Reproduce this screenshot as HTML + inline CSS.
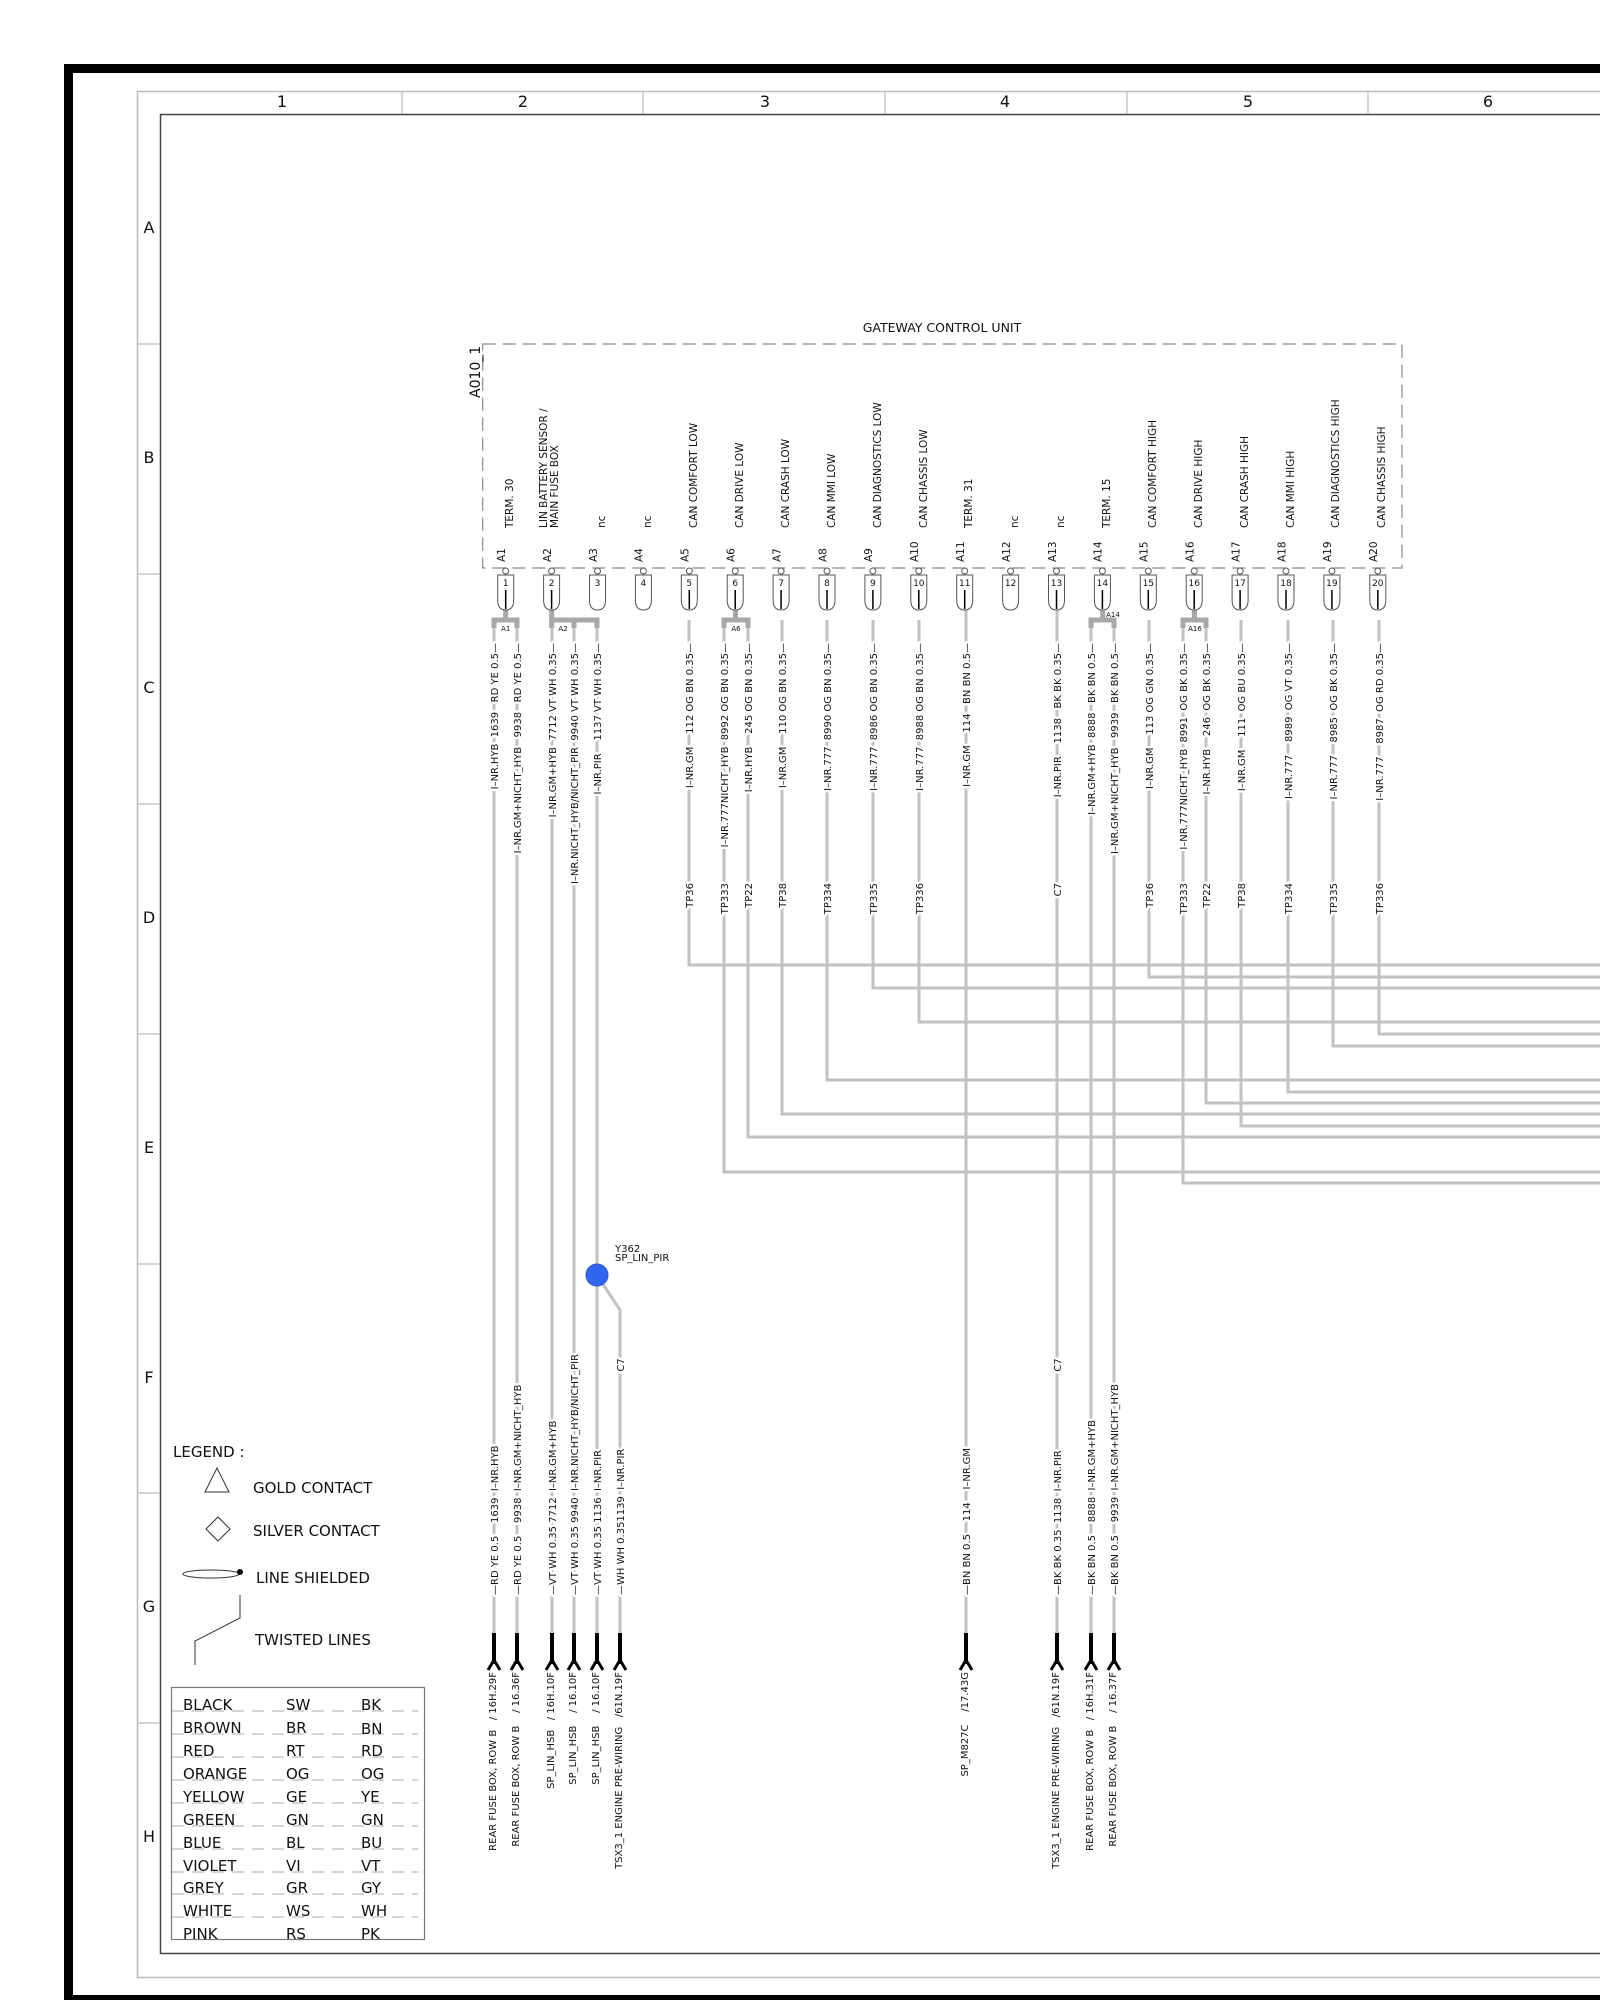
<!DOCTYPE html>
<html><head><meta charset="utf-8"><style>
html,body{margin:0;padding:0;background:#fff;}
svg{display:block;}
text{font-family:"DejaVu Sans","Liberation Sans",sans-serif;fill:#111;white-space:pre;}
.wl{font-size:10px;stroke:#fff;stroke-width:5px;paint-order:stroke;stroke-linejoin:round;white-space:pre;}
.w{stroke:#c2c2c2;stroke-width:3;fill:none;}
.br{stroke:#a8a8a8;stroke-width:5;fill:none;}
.lg{font-family:"DejaVu Sans","Liberation Sans",sans-serif;font-size:15px;}
</style></head><body>
<svg width="1600" height="2000" viewBox="0 0 1600 2000" xmlns="http://www.w3.org/2000/svg">
<rect x="64" y="64" width="1536" height="9" fill="#000"/>
<rect x="64" y="64" width="9" height="1936" fill="#000"/>
<rect x="64" y="1995" width="1536" height="5" fill="#000"/>
<path d="M1600 91.5 H137.5 V1977.5 H1600" stroke="#bbb" stroke-width="1.5" fill="none"/>
<path d="M1600 114.5 H160.5 V1953.5 H1600" stroke="#444" stroke-width="1.5" fill="none"/>
<g stroke="#bbb" stroke-width="1.2">
<line x1="402" y1="91" x2="402" y2="114"/><line x1="643" y1="91" x2="643" y2="114"/><line x1="885" y1="91" x2="885" y2="114"/><line x1="1127" y1="91" x2="1127" y2="114"/><line x1="1368" y1="91" x2="1368" y2="114"/>
<line x1="137" y1="344" x2="160" y2="344"/><line x1="137" y1="574" x2="160" y2="574"/><line x1="137" y1="804" x2="160" y2="804"/><line x1="137" y1="1034" x2="160" y2="1034"/><line x1="137" y1="1264" x2="160" y2="1264"/><line x1="137" y1="1493" x2="160" y2="1493"/><line x1="137" y1="1723" x2="160" y2="1723"/>
</g>
<g font-size="16" text-anchor="middle">
<text x="282" y="107">1</text><text x="523" y="107">2</text><text x="765" y="107">3</text><text x="1005" y="107">4</text><text x="1248" y="107">5</text><text x="1488" y="107">6</text>
<text x="149" y="233">A</text><text x="149" y="463">B</text><text x="149" y="693">C</text><text x="149" y="923">D</text><text x="149" y="1153">E</text><text x="149" y="1383">F</text><text x="149" y="1612">G</text><text x="149" y="1842">H</text>
</g>

<text x="942" y="332" font-size="12.5" text-anchor="middle">GATEWAY CONTROL UNIT</text>
<rect x="482.7" y="344" width="919.3" height="224" fill="none" stroke="#888" stroke-width="1.2" stroke-dasharray="13,7"/>
<text transform="translate(480,398) rotate(-90)" font-size="14">A010_1</text>

<g class="w">
<path d="M689 620 V965 H1600"/>
<path d="M1149 620 V977 H1600"/>
<path d="M873 620 V988 H1600"/>
<path d="M919 620 V1022 H1600"/>
<path d="M1379 620 V1034 H1600"/>
<path d="M1333 620 V1046 H1600"/>
<path d="M827 620 V1080 H1600"/>
<path d="M1288 620 V1092 H1600"/>
<path d="M1206 620 V1103 H1600"/>
<path d="M782 620 V1114 H1600"/>
<path d="M1241 620 V1126 H1600"/>
<path d="M748 620 V1137 H1600"/>
<path d="M724 620 V1172 H1600"/>
<path d="M1183 620 V1183 H1600"/>
<path d="M494 620 V1633"/><path d="M517 620 V1633"/>
<path d="M552 620 V1633"/><path d="M574 620 V1633"/><path d="M597 620 V1633"/>
<path d="M597 1275 L620 1310 V1633"/>
<path d="M966 610 V1633"/><path d="M1057 610 V1633"/>
<path d="M1091 620 V1633"/><path d="M1114 620 V1633"/>
</g>
<g class="br">
<path d="M505.7 609 V620 M494 628 V620 H517 V628"/>
<path d="M551.7 609 V628 M552 620 H597 V628 M574 620 V628"/>
<path d="M735.5 609 V620 M724 628 V620 H748 V628"/>
<path d="M1102.7 609 V620 M1091 628 V620 H1114 V628"/>
<path d="M1194.5 609 V620 M1183 628 V620 H1206 V628"/>
</g>
<g font-size="7" text-anchor="middle">
<text x="505.7" y="631">A1</text><text x="563" y="631">A2</text><text x="736" y="631">A6</text><text x="1113" y="617">A14</text><text x="1195" y="631">A16</text>
</g>

<g stroke="#555" stroke-width="1" fill="#fff">
<circle cx="505.7" cy="571" r="3"/><circle cx="551.6" cy="571" r="3"/><circle cx="597.5" cy="571" r="3"/><circle cx="643.4" cy="571" r="3"/><circle cx="689.3" cy="571" r="3"/><circle cx="735.2" cy="571" r="3"/><circle cx="781.1" cy="571" r="3"/><circle cx="827" cy="571" r="3"/><circle cx="872.9" cy="571" r="3"/><circle cx="918.8" cy="571" r="3"/><circle cx="964.7" cy="571" r="3"/><circle cx="1010.6" cy="571" r="3"/><circle cx="1056.5" cy="571" r="3"/><circle cx="1102.4" cy="571" r="3"/><circle cx="1148.3" cy="571" r="3"/><circle cx="1194.2" cy="571" r="3"/><circle cx="1240.1" cy="571" r="3"/><circle cx="1286" cy="571" r="3"/><circle cx="1331.9" cy="571" r="3"/><circle cx="1377.8" cy="571" r="3"/>
</g>
<g stroke="#555" stroke-width="1" fill="#fff">
<path d="M497.7 575 h16 v25 q0 10 -8 10 q-8 0 -8 -10 z"/>
<path d="M543.6 575 h16 v25 q0 10 -8 10 q-8 0 -8 -10 z"/>
<path d="M589.5 575 h16 v25 q0 10 -8 10 q-8 0 -8 -10 z"/>
<path d="M635.4 575 h16 v25 q0 10 -8 10 q-8 0 -8 -10 z"/>
<path d="M681.3 575 h16 v25 q0 10 -8 10 q-8 0 -8 -10 z"/>
<path d="M727.2 575 h16 v25 q0 10 -8 10 q-8 0 -8 -10 z"/>
<path d="M773.1 575 h16 v25 q0 10 -8 10 q-8 0 -8 -10 z"/>
<path d="M819 575 h16 v25 q0 10 -8 10 q-8 0 -8 -10 z"/>
<path d="M864.9 575 h16 v25 q0 10 -8 10 q-8 0 -8 -10 z"/>
<path d="M910.8 575 h16 v25 q0 10 -8 10 q-8 0 -8 -10 z"/>
<path d="M956.7 575 h16 v25 q0 10 -8 10 q-8 0 -8 -10 z"/>
<path d="M1002.6 575 h16 v25 q0 10 -8 10 q-8 0 -8 -10 z"/>
<path d="M1048.5 575 h16 v25 q0 10 -8 10 q-8 0 -8 -10 z"/>
<path d="M1094.4 575 h16 v25 q0 10 -8 10 q-8 0 -8 -10 z"/>
<path d="M1140.3 575 h16 v25 q0 10 -8 10 q-8 0 -8 -10 z"/>
<path d="M1186.2 575 h16 v25 q0 10 -8 10 q-8 0 -8 -10 z"/>
<path d="M1232.1 575 h16 v25 q0 10 -8 10 q-8 0 -8 -10 z"/>
<path d="M1278 575 h16 v25 q0 10 -8 10 q-8 0 -8 -10 z"/>
<path d="M1323.9 575 h16 v25 q0 10 -8 10 q-8 0 -8 -10 z"/>
<path d="M1369.8 575 h16 v25 q0 10 -8 10 q-8 0 -8 -10 z"/>
</g>
<g stroke="#000" stroke-width="1.5">
<path d="M505.7 590 V609 M551.6 590 V609 M689.3 590 V609 M735.2 590 V609 M781.1 590 V609 M827 590 V609 M872.9 590 V609 M918.8 590 V609 M964.7 590 V609 M1056.5 590 V609 M1102.4 590 V609 M1148.3 590 V609 M1194.2 590 V609 M1240.1 590 V609 M1286 590 V609 M1331.9 590 V609 M1377.8 590 V609"/>
</g>
<g font-size="9" text-anchor="middle">
<text x="505.7" y="586">1</text><text x="551.6" y="586">2</text><text x="597.5" y="586">3</text><text x="643.4" y="586">4</text><text x="689.3" y="586">5</text><text x="735.2" y="586">6</text><text x="781.1" y="586">7</text><text x="827" y="586">8</text><text x="872.9" y="586">9</text><text x="918.8" y="586">10</text><text x="964.7" y="586">11</text><text x="1010.6" y="586">12</text><text x="1056.5" y="586">13</text><text x="1102.4" y="586">14</text><text x="1148.3" y="586">15</text><text x="1194.2" y="586">16</text><text x="1240.1" y="586">17</text><text x="1286" y="586">18</text><text x="1331.9" y="586">19</text><text x="1377.8" y="586">20</text>
</g>
<g font-size="10.5">
<text transform="translate(505,562) rotate(-90)">A1</text>
<text transform="translate(550.9,562) rotate(-90)">A2</text>
<text transform="translate(596.8,562) rotate(-90)">A3</text>
<text transform="translate(642.7,562) rotate(-90)">A4</text>
<text transform="translate(688.6,562) rotate(-90)">A5</text>
<text transform="translate(734.5,562) rotate(-90)">A6</text>
<text transform="translate(780.4,562) rotate(-90)">A7</text>
<text transform="translate(826.3,562) rotate(-90)">A8</text>
<text transform="translate(872.2,562) rotate(-90)">A9</text>
<text transform="translate(918.1,562) rotate(-90)">A10</text>
<text transform="translate(964,562) rotate(-90)">A11</text>
<text transform="translate(1009.9,562) rotate(-90)">A12</text>
<text transform="translate(1055.8,562) rotate(-90)">A13</text>
<text transform="translate(1101.7,562) rotate(-90)">A14</text>
<text transform="translate(1147.6,562) rotate(-90)">A15</text>
<text transform="translate(1193.5,562) rotate(-90)">A16</text>
<text transform="translate(1239.4,562) rotate(-90)">A17</text>
<text transform="translate(1285.3,562) rotate(-90)">A18</text>
<text transform="translate(1331.2,562) rotate(-90)">A19</text>
<text transform="translate(1377.1,562) rotate(-90)">A20</text>
</g>
<g font-size="10.5">
<text transform="translate(513,528) rotate(-90)">TERM. 30</text>
<text transform="translate(547,528) rotate(-90)">LIN BATTERY SENSOR /</text>
<text transform="translate(558,528) rotate(-90)">MAIN FUSE BOX</text>
<text transform="translate(605,528) rotate(-90)">nc</text>
<text transform="translate(651,528) rotate(-90)">nc</text>
<text transform="translate(697,528) rotate(-90)">CAN COMFORT LOW</text>
<text transform="translate(743,528) rotate(-90)">CAN DRIVE LOW</text>
<text transform="translate(789,528) rotate(-90)">CAN CRASH LOW</text>
<text transform="translate(835,528) rotate(-90)">CAN MMI LOW</text>
<text transform="translate(881,528) rotate(-90)">CAN DIAGNOSTICS LOW</text>
<text transform="translate(927,528) rotate(-90)">CAN CHASSIS LOW</text>
<text transform="translate(972,528) rotate(-90)">TERM. 31</text>
<text transform="translate(1018,528) rotate(-90)">nc</text>
<text transform="translate(1064,528) rotate(-90)">nc</text>
<text transform="translate(1110,528) rotate(-90)">TERM. 15</text>
<text transform="translate(1156,528) rotate(-90)">CAN COMFORT HIGH</text>
<text transform="translate(1202,528) rotate(-90)">CAN DRIVE HIGH</text>
<text transform="translate(1248,528) rotate(-90)">CAN CRASH HIGH</text>
<text transform="translate(1294,528) rotate(-90)">CAN MMI HIGH</text>
<text transform="translate(1339,528) rotate(-90)">CAN DIAGNOSTICS HIGH</text>
<text transform="translate(1385,528) rotate(-90)">CAN CHASSIS HIGH</text>
</g>

<g class="wl" text-anchor="end">
<text transform="translate(498,643) rotate(-90)">I–NR.HYB  1639   RD YE 0.5—</text>
<text transform="translate(521,643) rotate(-90)">I–NR.GM+NICHT_HYB   9938   RD YE 0.5—</text>
<text transform="translate(556,643) rotate(-90)">I–NR.GM+HYB  7712 VT WH 0.35—</text>
<text transform="translate(578,643) rotate(-90)">I–NR.NICHT_HYB/NICHT_PIR  9940 VT WH 0.35—</text>
<text transform="translate(601,643) rotate(-90)">I–NR.PIR    1137 VT WH 0.35—</text>
<text transform="translate(693,643) rotate(-90)">I–NR.GM    112 OG BN 0.35—</text>
<text transform="translate(728,643) rotate(-90)">I–NR.777NICHT_HYB  8992 OG BN 0.35—</text>
<text transform="translate(752,643) rotate(-90)">I–NR.HYB    245 OG BN 0.35—</text>
<text transform="translate(786,643) rotate(-90)">I–NR.GM    110 OG BN 0.35—</text>
<text transform="translate(831,643) rotate(-90)">I–NR.777  8990 OG BN 0.35—</text>
<text transform="translate(877,643) rotate(-90)">I–NR.777  8986 OG BN 0.35—</text>
<text transform="translate(923,643) rotate(-90)">I–NR.777  8988 OG BN 0.35—</text>
<text transform="translate(970,643) rotate(-90)">I–NR.GM    114   BN BN 0.5—</text>
<text transform="translate(1061,643) rotate(-90)">I–NR.PIR    1138   BK BK 0.35—</text>
<text transform="translate(1095,643) rotate(-90)">I–NR.GM+HYB  8888   BK BN 0.5—</text>
<text transform="translate(1118,643) rotate(-90)">I–NR.GM+NICHT_HYB   9939   BK BN 0.5—</text>
<text transform="translate(1153,643) rotate(-90)">I–NR.GM    113 OG GN 0.35—</text>
<text transform="translate(1187,643) rotate(-90)">I–NR.777NICHT_HYB  8991  OG BK 0.35—</text>
<text transform="translate(1210,643) rotate(-90)">I–NR.HYB    246  OG BK 0.35—</text>
<text transform="translate(1245,643) rotate(-90)">I–NR.GM    111  OG BU 0.35—</text>
<text transform="translate(1292,643) rotate(-90)">I–NR.777    8989  OG VT 0.35—</text>
<text transform="translate(1337,643) rotate(-90)">I–NR.777    8985  OG BK 0.35—</text>
<text transform="translate(1383,643) rotate(-90)">I–NR.777    8987  OG RD 0.35—</text>
</g>
<g class="wl" text-anchor="end">
<text transform="translate(693,883) rotate(-90)">TP36</text>
<text transform="translate(728,883) rotate(-90)">TP333</text>
<text transform="translate(752,883) rotate(-90)">TP22</text>
<text transform="translate(786,883) rotate(-90)">TP38</text>
<text transform="translate(831,883) rotate(-90)">TP334</text>
<text transform="translate(877,883) rotate(-90)">TP335</text>
<text transform="translate(923,883) rotate(-90)">TP336</text>
<text transform="translate(1061,883) rotate(-90)">C7</text>
<text transform="translate(1153,883) rotate(-90)">TP36</text>
<text transform="translate(1187,883) rotate(-90)">TP333</text>
<text transform="translate(1210,883) rotate(-90)">TP22</text>
<text transform="translate(1245,883) rotate(-90)">TP38</text>
<text transform="translate(1292,883) rotate(-90)">TP334</text>
<text transform="translate(1337,883) rotate(-90)">TP335</text>
<text transform="translate(1383,883) rotate(-90)">TP336</text>
</g>

<circle cx="597" cy="1275" r="11" fill="#3366ee" stroke="#2a55cc" stroke-width="1"/>
<text x="615" y="1252" font-size="10">Y362</text>
<text x="615" y="1261" font-size="10">SP_LIN_PIR</text>

<g class="wl">
<text transform="translate(498,1595) rotate(-90)">—RD YE 0.5    1639  I–NR.HYB</text>
<text transform="translate(521,1595) rotate(-90)">—RD YE 0.5    9938  I–NR.GM+NICHT_HYB</text>
<text transform="translate(556,1595) rotate(-90)">—VT WH 0.35 7712  I–NR.GM+HYB</text>
<text transform="translate(578,1595) rotate(-90)">—VT WH 0.35 9940  I–NR.NICHT_HYB/NICHT_PIR</text>
<text transform="translate(601,1595) rotate(-90)">—VT WH 0.35 1136  I–NR.PIR</text>
<text transform="translate(624,1595) rotate(-90)">—WH WH 0.351139  I–NR.PIR</text>
<text transform="translate(970,1595) rotate(-90)">—BN BN 0.5    114    I–NR.GM</text>
<text transform="translate(1061,1595) rotate(-90)">—BK BK 0.35  1138  I–NR.PIR</text>
<text transform="translate(1095,1595) rotate(-90)">—BK BN 0.5    8888  I–NR.GM+HYB</text>
<text transform="translate(1118,1595) rotate(-90)">—BK BN 0.5    9939  I–NR.GM+NICHT_HYB</text>
</g>
<g class="wl" text-anchor="middle">
<text transform="translate(624,1365) rotate(-90)">C7</text>
<text transform="translate(1061,1365) rotate(-90)">C7</text>
</g>

<g stroke="#000" fill="none">
<path d="M494 1633 V1664 M517 1633 V1664 M552 1633 V1664 M574 1633 V1664 M597 1633 V1664 M620 1633 V1664 M966 1633 V1664 M1057 1633 V1664 M1091 1633 V1664 M1114 1633 V1664" stroke-width="4"/>
<path d="M488 1670 L494 1660 L500 1670 M511 1670 L517 1660 L523 1670 M546 1670 L552 1660 L558 1670 M568 1670 L574 1660 L580 1670 M591 1670 L597 1660 L603 1670 M614 1670 L620 1660 L626 1670 M960 1670 L966 1660 L972 1670 M1051 1670 L1057 1660 L1063 1670 M1085 1670 L1091 1660 L1097 1670 M1108 1670 L1114 1660 L1120 1670" stroke-width="3"/>
</g>
<g font-size="10" text-anchor="end">
<text transform="translate(496,1672) rotate(-90)">REAR FUSE BOX, ROW B   / 16H.29F</text>
<text transform="translate(519,1672) rotate(-90)">REAR FUSE BOX, ROW B    / 16.36F</text>
<text transform="translate(554,1672) rotate(-90)">SP_LIN_HSB   / 16H.10F</text>
<text transform="translate(576,1672) rotate(-90)">SP_LIN_HSB    / 16.10F</text>
<text transform="translate(599,1672) rotate(-90)">SP_LIN_HSB    / 16.10F</text>
<text transform="translate(622,1672) rotate(-90)">TSX3_1 ENGINE PRE-WIRING   /61N.19F</text>
<text transform="translate(968,1672) rotate(-90)">SP_M827C    /17.43G</text>
<text transform="translate(1059,1672) rotate(-90)">TSX3_1 ENGINE PRE-WIRING   /61N.19F</text>
<text transform="translate(1093,1672) rotate(-90)">REAR FUSE BOX, ROW B   / 16H.31F</text>
<text transform="translate(1116,1672) rotate(-90)">REAR FUSE BOX, ROW B    / 16.37F</text>
</g>

<text x="173" y="1457" class="lg">LEGEND :</text>
<path d="M205 1492 L217 1468 L229 1492 Z" fill="none" stroke="#333" stroke-width="1"/>
<text x="253" y="1493" class="lg">GOLD CONTACT</text>
<path d="M218 1517 L230 1529 L218 1541 L206 1529 Z" fill="none" stroke="#333" stroke-width="1"/>
<text x="253" y="1536" class="lg">SILVER CONTACT</text>
<ellipse cx="211" cy="1574" rx="28" ry="4" fill="none" stroke="#333" stroke-width="1"/>
<circle cx="240" cy="1572" r="3" fill="#000"/>
<text x="256" y="1583" class="lg">LINE SHIELDED</text>
<path d="M240 1595 V1618 L195 1641 V1665" fill="none" stroke="#333" stroke-width="1"/>
<text x="255" y="1645" class="lg">TWISTED LINES</text>

<rect x="171.5" y="1687.5" width="253" height="252" fill="none" stroke="#777" stroke-width="1.2"/>
<g stroke="#aaa" stroke-width="1" stroke-dasharray="12,8">
<line x1="172" y1="1711" x2="418" y2="1711"/><line x1="172" y1="1734" x2="418" y2="1734"/><line x1="172" y1="1757" x2="418" y2="1757"/><line x1="172" y1="1780" x2="418" y2="1780"/><line x1="172" y1="1803" x2="418" y2="1803"/><line x1="172" y1="1826" x2="418" y2="1826"/><line x1="172" y1="1849" x2="418" y2="1849"/><line x1="172" y1="1872" x2="418" y2="1872"/><line x1="172" y1="1894" x2="418" y2="1894"/><line x1="172" y1="1917" x2="418" y2="1917"/>
</g>
<g class="lg">
<text x="183" y="1710">BLACK</text><text x="286" y="1710">SW</text><text x="361" y="1710">BK</text>
<text x="183" y="1733">BROWN</text><text x="286" y="1733">BR</text><text x="361" y="1734">BN</text>
<text x="183" y="1756">RED</text><text x="286" y="1756">RT</text><text x="361" y="1756">RD</text>
<text x="183" y="1779">ORANGE</text><text x="286" y="1779">OG</text><text x="361" y="1779">OG</text>
<text x="183" y="1802">YELLOW</text><text x="286" y="1802">GE</text><text x="361" y="1802">YE</text>
<text x="183" y="1825">GREEN</text><text x="286" y="1825">GN</text><text x="361" y="1825">GN</text>
<text x="183" y="1848">BLUE</text><text x="286" y="1848">BL</text><text x="361" y="1848">BU</text>
<text x="183" y="1871">VIOLET</text><text x="286" y="1871">VI</text><text x="361" y="1871">VT</text>
<text x="183" y="1893">GREY</text><text x="286" y="1893">GR</text><text x="361" y="1893">GY</text>
<text x="183" y="1916">WHITE</text><text x="286" y="1916">WS</text><text x="361" y="1916">WH</text>
<text x="183" y="1939">PINK</text><text x="286" y="1939">RS</text><text x="361" y="1939">PK</text>
</g>
</svg>
</body></html>
